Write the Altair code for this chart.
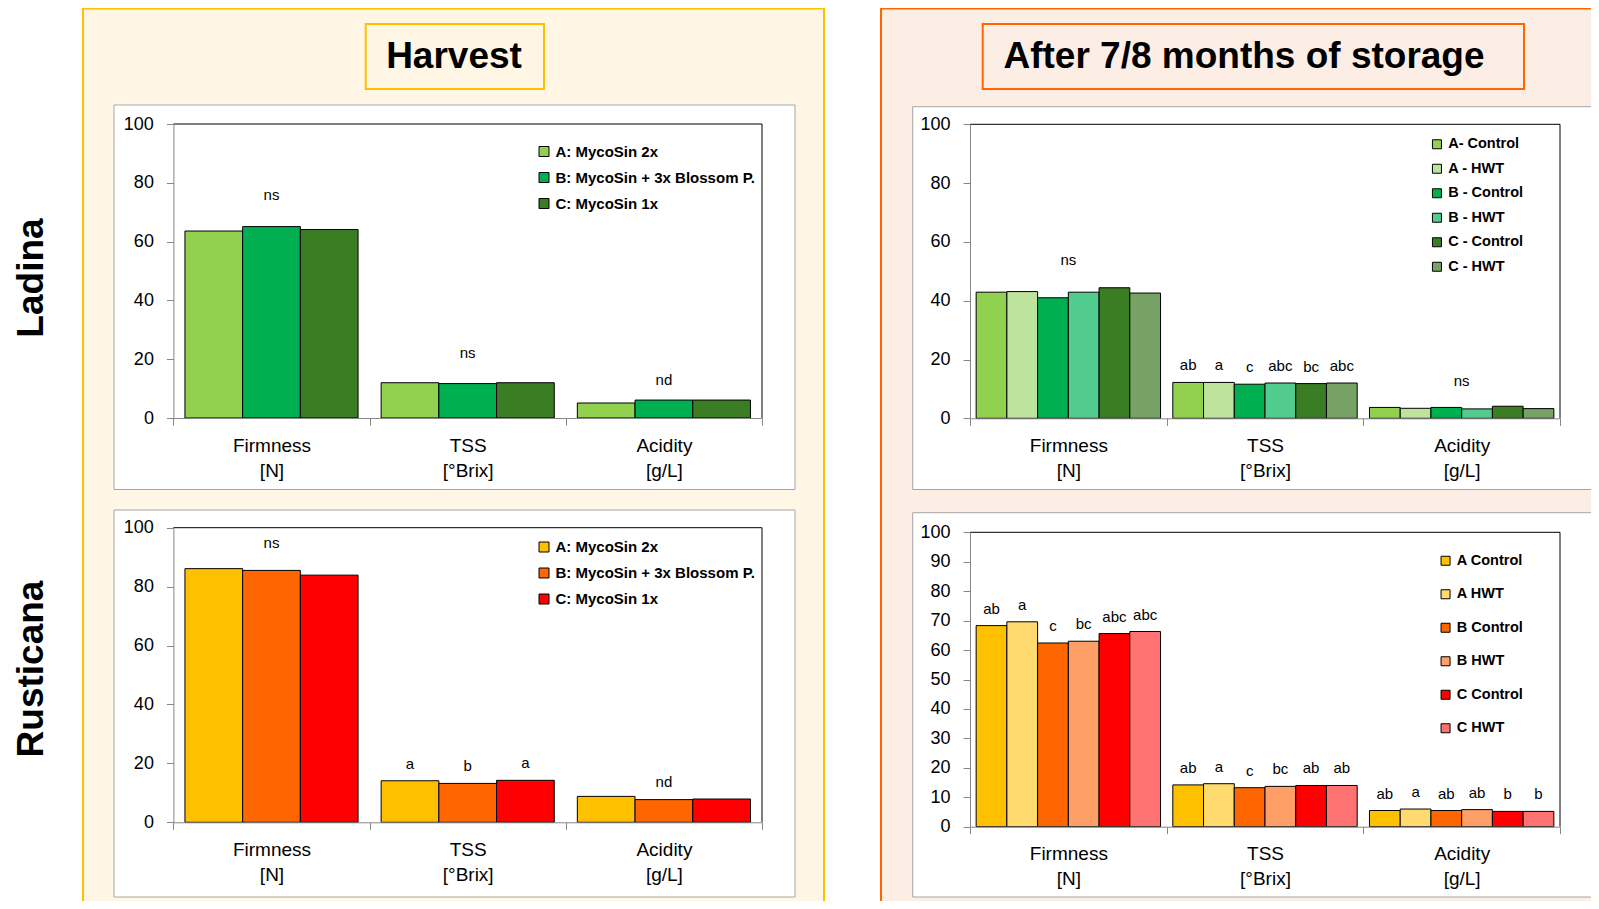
import altair as alt
import pandas as pd

# ---------------- data ----------------
categories = ["Firmness|[N]", "TSS|[°Brix]", "Acidity|[g/L]"]

harvest_treatments = ["A: MycoSin 2x", "B: MycoSin + 3x Blossom P.", "C: MycoSin 1x"]
ladina_storage_treatments = ["A- Control", "A - HWT", "B - Control", "B - HWT", "C - Control", "C - HWT"]
rusticana_storage_treatments = ["A Control", "A HWT", "B Control", "B HWT", "C Control", "C HWT"]

ladina_harvest_values = [[63.6, 12.0, 5.1], [65.1, 11.7, 6.1], [64.1, 12.0, 6.1]]
rusticana_harvest_values = [[86.1, 14.1, 8.8], [85.5, 13.2, 7.7], [83.9, 14.25, 7.9]]
ladina_storage_values = [[42.9, 12.2, 3.7], [43.1, 12.2, 3.4], [41.0, 11.6, 3.7],
                         [42.9, 12.0, 3.2], [44.4, 11.8, 4.1], [42.6, 12.0, 3.3]]
rusticana_storage_values = [[68.3, 14.2, 5.5], [69.6, 14.6, 6.0], [62.4, 13.25, 5.5],
                            [63.0, 13.7, 5.8], [65.6, 14.0, 5.2], [66.3, 14.0, 5.2]]

ladina_harvest_letters = [["", "", ""], ["", "", ""], ["", "", ""]]
rusticana_harvest_letters = [["", "a", ""], ["", "b", ""], ["", "a", ""]]
ladina_storage_letters = [["", "ab", ""], ["", "a", ""], ["", "c", ""],
                          ["", "abc", ""], ["", "bc", ""], ["", "abc", ""]]
rusticana_storage_letters = [["ab", "ab", "ab"], ["a", "a", "a"], ["c", "c", "ab"],
                             ["bc", "bc", "ab"], ["abc", "ab", "b"], ["abc", "ab", "b"]]

ladina_harvest_groups = [("Firmness|[N]", "ns", 75.9), ("TSS|[°Brix]", "ns", 22.0), ("Acidity|[g/L]", "nd", 13.0)]
rusticana_harvest_groups = [("Firmness|[N]", "ns", 94.7), ("Acidity|[g/L]", "nd", 13.6)]
ladina_storage_groups = [("Firmness|[N]", "ns", 53.9), ("Acidity|[g/L]", "ns", 12.7)]
rusticana_storage_groups = []

ladina_harvest_colors = ["#92D050", "#00B050", "#3A7D22"]
rusticana_harvest_colors = ["#FFC000", "#FF6600", "#FF0000"]
ladina_storage_colors = ["#92D050", "#BEE39C", "#00B050", "#52CC8E", "#3A7D22", "#77A266"]
rusticana_storage_colors = ["#FFC000", "#FFDA6E", "#FF6600", "#FF9F68", "#FF0000", "#FF7272"]

W, H = 1583, 893
FONT = "Liberation Sans"
AXIS_GREY = "#868686"


def one_row():
    return pd.DataFrame({"k": [0]})


def box(x0, x1, y0, y1, fill, stroke, sw):
    return alt.Chart(one_row()).mark_rect(fill=fill, stroke=stroke, strokeWidth=sw).encode(
        x=alt.value(x0), x2=alt.value(x1), y=alt.value(y0), y2=alt.value(y1))


def label(text, x, y, size, angle=0):
    return alt.Chart(one_row()).mark_text(
        text=text, font=FONT, fontSize=size, fontWeight="bold", color="black",
        align="center", baseline="middle", angle=angle).encode(x=alt.value(x), y=alt.value(y))


def panel(values, trts, colors, letters, groups, geom, yticks, leg):
    x0, x1, yt, yb = geom
    rows = []
    for ti, t in enumerate(trts):
        for ci, c in enumerate(categories):
            rows.append({"cat": c, "trt": t, "val": values[ti][ci], "letter": letters[ti][ci]})
    df = pd.DataFrame(rows)

    def xscale():
        return alt.Scale(domain=categories, range=[x0, x1], paddingInner=0, paddingOuter=0)

    def yscale():
        return alt.Scale(domain=[0, 100], range=[yb, yt], nice=False)

    xaxis = alt.Axis(orient="bottom", offset=yb - H, title=None, zindex=1,
                     labelExpr="split(datum.label, '|')", tickBand="extent",
                     domainColor=AXIS_GREY, tickColor=AXIS_GREY, tickSize=7,
                     labelFont=FONT, labelFontSize=19, labelColor="black",
                     labelLineHeight=25, labelPadding=11, labelAngle=0)
    yaxis = alt.Axis(orient="left", offset=-x0, title=None, values=yticks, grid=False, zindex=1,
                     domainColor=AXIS_GREY, tickColor=AXIS_GREY, tickSize=7,
                     labelFont=FONT, labelFontSize=18, labelColor="black", labelPadding=13)
    col = alt.Color("trt:N", scale=alt.Scale(domain=trts, range=colors),
                    legend=alt.Legend(orient="none", legendX=leg[0], legendY=leg[1], title=None,
                                      symbolType="square", symbolSize=leg[2] ** 2,
                                      symbolStrokeColor="black", symbolStrokeWidth=1,
                                      labelFont=FONT, labelFontSize=leg[3], labelFontWeight="bold",
                                      labelColor="black", rowPadding=leg[4], labelOffset=4,
                                      labelLimit=400, padding=0))

    bars = alt.Chart(df).mark_bar(stroke="black", strokeWidth=1).encode(
        x=alt.X("cat:N", scale=xscale(), axis=xaxis),
        xOffset=alt.XOffset("trt:N", scale=alt.Scale(domain=trts, paddingInner=0, paddingOuter=0.2)),
        y=alt.Y("val:Q", scale=yscale(), axis=yaxis),
        color=col)

    letters_layer = alt.Chart(df).transform_filter("datum.letter != ''").mark_text(
        font=FONT, fontSize=15, color="black", baseline="middle", dy=-17).encode(
        x=alt.X("cat:N", scale=xscale(), axis=None),
        xOffset=alt.XOffset("trt:N", scale=alt.Scale(type="point", domain=trts, padding=0.7)),
        y=alt.Y("val:Q", scale=yscale(), axis=None), text="letter:N")

    gdf = pd.DataFrame(groups, columns=["cat", "txt", "pos"]) if groups else pd.DataFrame(
        {"cat": [categories[0]], "txt": [""], "pos": [0.0]})
    group_layer = alt.Chart(gdf).mark_text(
        font=FONT, fontSize=15, color="black", baseline="middle").encode(
        x=alt.X("cat:N", scale=xscale(), axis=None),
        y=alt.Y("pos:Q", scale=yscale(), axis=None), text="txt:N")

    top_rule = alt.Chart(one_row()).mark_rule(color="black", strokeWidth=1).encode(
        x=alt.value(x0), x2=alt.value(x1), y=alt.value(yt))
    right_rule = alt.Chart(one_row()).mark_rule(color="black", strokeWidth=1).encode(
        x=alt.value(x1), y=alt.value(yt), y2=alt.value(yb))

    return [bars, letters_layer, group_layer, top_rule, right_rule]


ticks20 = [0, 20, 40, 60, 80, 100]
ticks10 = list(range(0, 101, 10))

p1 = panel(ladina_harvest_values, harvest_treatments, ladina_harvest_colors, ladina_harvest_letters,
           ladina_harvest_groups, (165.4, 754, 116, 410), ticks20, (528.5, 136, 10, 15, 10))
p3 = panel(rusticana_harvest_values, harvest_treatments, rusticana_harvest_colors, rusticana_harvest_letters,
           rusticana_harvest_groups, (165.4, 754, 519.7, 814.3), ticks20, (528.5, 531.5, 10, 15, 10))
p2 = panel(ladina_storage_values, ladina_storage_treatments, ladina_storage_colors, ladina_storage_letters,
           ladina_storage_groups, (962, 1552, 116.3, 410.3), ticks20, (1421.7, 129, 9, 14.5, 9.5))
p4 = panel(rusticana_storage_values, rusticana_storage_treatments, rusticana_storage_colors,
           rusticana_storage_letters, rusticana_storage_groups, (962, 1552, 524.3, 818.7), ticks10,
           (1430.3, 545.5, 9, 14.5, 18.5))

decor = [
    box(75, 816, 0.5, 905, "#FFF6E6", "#FFC000", 2),
    box(873, 1600, 0.5, 905, "#FDEEE5", "#FF6600", 2),
    box(357.7, 536, 16, 81, "#FFF6E6", "#FFC000", 2),
    box(974.7, 1516, 16, 81, "#FDEEE5", "#FF6600", 2),
    box(106, 787, 97, 481.5, "white", "#A6A6A6", 1),
    box(106, 787, 502, 889, "white", "#A6A6A6", 1),
    box(904.7, 1586, 98.7, 481.5, "white", "#A6A6A6", 1),
    box(904.7, 1586, 504.7, 889, "white", "#A6A6A6", 1),
    label("Harvest", 446, 48.5, 37),
    label("After 7/8 months of storage", 1236, 48.5, 37),
    label("Ladina", 23.7, 270, 37, 270),
    label("Rusticana", 23.7, 661, 37, 270),
]

chart = alt.layer(*decor, *p1, *p2, *p3, *p4).resolve_scale(
    x="independent", y="independent", xOffset="independent", color="independent"
).resolve_axis(x="independent", y="independent").resolve_legend(color="independent").properties(
    width=W, height=H, autosize=alt.AutoSizeParams(type="none"), padding=0, background="white"
).configure_view(strokeWidth=0)

chart.save("out.html", embed_options={"renderer": "svg", "actions": False})
